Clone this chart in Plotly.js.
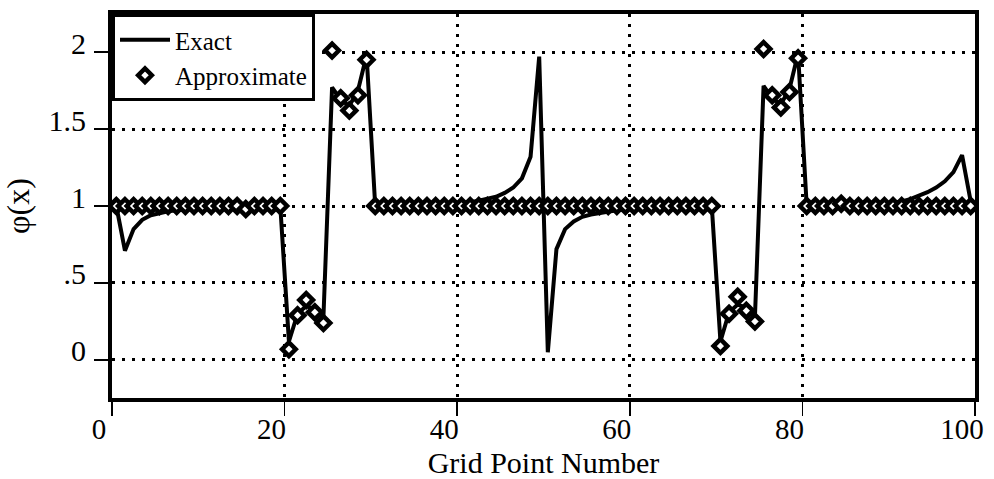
<!DOCTYPE html>
<html>
<head>
<meta charset="utf-8">
<script src="https://cdn.plot.ly/plotly-3.0.1.min.js"></script>
<style>
  html, body { margin: 0; padding: 0; background: #ffffff; }
  #chart { width: 994px; height: 479px; }
</style>
</head>
<body>
<div id="chart"></div>
<script>
// Grid points sit at cell centres 0.5, 1.5, ..., 99.5
const gridPoints = [];
for (let i = 0; i < 100; i++) gridPoints.push(i + 0.5);

// Exact solution phi(x) at each grid point
const exactPhi = [
  1.00, 0.71, 0.85, 0.91, 0.94, 0.955, 0.965, 0.972, 0.978, 0.983,
  0.987, 0.99, 0.992, 0.994, 0.996, 0.997, 0.998, 0.999, 1.00, 1.00,
  0.12, 0.30, 0.35, 0.33, 0.28, 1.77, 1.69, 1.65, 1.75, 1.98,
  1.00, 1.00, 1.00, 1.00, 1.00, 1.003, 1.006, 1.009, 1.012, 1.015,
  1.02, 1.025, 1.035, 1.045, 1.06, 1.085, 1.12, 1.18, 1.32, 1.97,
  0.05, 0.72, 0.85, 0.90, 0.93, 0.945, 0.955, 0.965, 0.972, 0.978,
  0.983, 0.987, 0.99, 0.993, 0.995, 0.997, 0.998, 0.999, 1.00, 1.00,
  0.12, 0.31, 0.36, 0.34, 0.28, 1.78, 1.70, 1.66, 1.76, 1.99,
  1.00, 1.00, 1.00, 1.00, 1.00, 1.00, 1.003, 1.006, 1.01, 1.015,
  1.02, 1.03, 1.045, 1.065, 1.09, 1.12, 1.16, 1.22, 1.33, 1.03
];

// Approximate solution phi(x) at each grid point
const approxPhi = [
  1.00, 1.00, 1.00, 1.00, 1.00, 1.00, 1.00, 1.00, 1.00, 1.00,
  1.00, 1.00, 1.00, 1.00, 1.00, 0.98, 1.00, 1.00, 1.00, 1.00,
  0.07, 0.29, 0.39, 0.31, 0.24, 2.01, 1.70, 1.62, 1.72, 1.95,
  1.00, 1.00, 1.00, 1.00, 1.00, 1.00, 1.00, 1.00, 1.00, 1.00,
  1.00, 1.00, 1.00, 1.00, 1.00, 1.00, 1.00, 1.00, 1.00, 1.00,
  1.00, 1.00, 1.00, 1.00, 1.00, 1.00, 1.00, 1.00, 1.00, 1.00,
  1.00, 1.00, 1.00, 1.00, 1.00, 1.00, 1.00, 1.00, 1.00, 1.00,
  0.09, 0.30, 0.41, 0.32, 0.25, 2.02, 1.72, 1.64, 1.74, 1.96,
  1.00, 1.00, 1.00, 1.00, 1.015, 1.00, 1.00, 1.00, 1.00, 1.00,
  1.00, 1.00, 1.00, 1.00, 1.00, 1.00, 1.00, 1.00, 1.00, 1.00
];

// Axis ticks
const xTickVals = [0, 20, 40, 60, 80, 100];
const xTickText = ['0', '20', '40', '60', '80', '100'];
const yTickVals = [0, 0.5, 1, 1.5, 2];
const yTickText = ['0', '.5', '1', '1.5', '2'];

const serif = '"Liberation Serif", "Times New Roman", Times, serif';

const traces = [
  {
    x: gridPoints, y: exactPhi,
    type: 'scatter', mode: 'lines', name: 'Exact',
    line: { color: '#000000', width: 4 }
  },
  {
    x: gridPoints, y: approxPhi,
    type: 'scatter', mode: 'markers', name: 'Approximate',
    marker: { symbol: 'diamond', size: 10.5, color: '#ffffff',
              line: { color: '#000000', width: 4.5 } }
  }
];

const gridDash = '3px,7px';

const layout = {
  width: 994, height: 479,
  margin: { l: 112, r: 19, t: 14, b: 81 },
  paper_bgcolor: '#ffffff', plot_bgcolor: '#ffffff',
  font: { family: serif, color: '#000000', size: 28 },
  showlegend: true,
  legend: {
    x: 0, y: 1, xanchor: 'left', yanchor: 'top',
    bgcolor: '#ffffff', bordercolor: '#000000', borderwidth: 3,
    font: { family: serif, size: 25, color: '#000000' },
    itemwidth: 50, tracegroupgap: 0
  },
  xaxis: {
    range: [0, 100], autorange: false,
    tickmode: 'array', tickvals: xTickVals, ticktext: xTickText,
    ticks: 'outside', ticklen: 14, tickwidth: 1.5, tickcolor: '#000000',
    tickfont: { family: serif, size: 29 }, ticklabelshift: -13, ticklabelstandoff: -12,
    showgrid: true, gridcolor: '#000000', gridwidth: 3, griddash: gridDash,
    showline: true, mirror: true, linecolor: '#000000', linewidth: 4,
    zeroline: false,
    title: { text: 'Grid Point Number', font: { family: serif, size: 30 }, standoff: 14 }
  },
  yaxis: {
    range: [-0.247, 2.247], autorange: false,
    tickmode: 'array', tickvals: yTickVals, ticktext: yTickText,
    ticks: 'outside', ticklen: 14, tickwidth: 1.5, tickcolor: '#000000',
    tickfont: { family: serif, size: 30 }, ticklabelshift: -9, ticklabelstandoff: 2,
    showgrid: true, gridcolor: '#000000', gridwidth: 3, griddash: gridDash,
    showline: true, mirror: true, linecolor: '#000000', linewidth: 4,
    zeroline: false,
    title: { text: 'φ(x)', font: { family: serif, size: 32 }, standoff: 12 }
  }
};

Plotly.newPlot('chart', traces, layout, { displayModeBar: false, staticPlot: true });
</script>
</body>
</html>
